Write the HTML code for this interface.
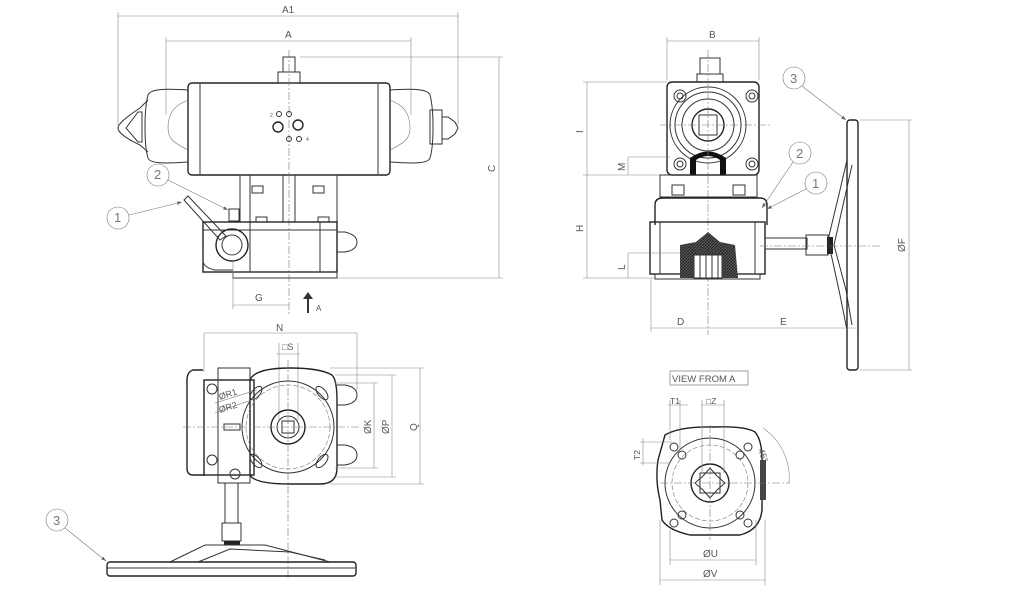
<!DOCTYPE html>
<html><head><meta charset="utf-8"><style>
html,body{margin:0;padding:0;background:#fff;width:1024px;height:600px;overflow:hidden}
svg{display:block}
text{font-family:"Liberation Sans",sans-serif;fill:#555;font-size:10px}
.l{stroke:#333;fill:none;stroke-width:1}
.t{stroke:#777;fill:none;stroke-width:0.6}
.d{stroke:#888;fill:none;stroke-width:0.6}
.c{stroke:#777;fill:none;stroke-width:0.6;stroke-dasharray:8 2 2 2}
.k{stroke:#222;fill:none;stroke-width:1.4}
</style></head><body>
<svg width="1024" height="600" viewBox="0 0 1024 600" xmlns="http://www.w3.org/2000/svg">
<defs>
<marker id="ar" markerWidth="8" markerHeight="6" refX="8" refY="3" orient="auto"><path d="M0,0 L8,3 L0,6z" fill="#666"/></marker>
<pattern id="hatch" width="3" height="3" patternUnits="userSpaceOnUse"><rect width="3" height="3" fill="#555"/><path d="M0,3 L3,0" stroke="#222" stroke-width="1"/></pattern>
</defs>

<!-- ===== VIEW 1 ===== -->
<!-- dims -->
<line class="d" x1="118" y1="16" x2="458" y2="16"/>
<line class="d" x1="118" y1="12" x2="118" y2="125"/><line class="d" x1="458" y1="12" x2="458" y2="125"/>
<text x="282" y="13">A1</text>
<line class="d" x1="166" y1="41" x2="411" y2="41"/>
<line class="d" x1="166" y1="37" x2="166" y2="115"/><line class="d" x1="411" y1="37" x2="411" y2="115"/>
<text x="285" y="38">A</text>
<line class="d" x1="300" y1="57" x2="503" y2="57"/>
<line class="d" x1="337" y1="278" x2="503" y2="278"/>
<line class="d" x1="499" y1="57" x2="499" y2="278"/>
<text x="0" y="0" transform="translate(495,172) rotate(-90)">C</text>
<!-- actuator -->
<rect class="k" x="188" y="83" width="202" height="92" rx="4"/>
<line class="l" x1="200" y1="84" x2="200" y2="174"/><line class="l" x1="378" y1="84" x2="378" y2="174"/>
<path class="l" d="M188,90 C160,88 150,90 148,95 C144,110 144,145 148,158 C150,163 160,164 188,162"/>
<path class="l" d="M148,100 L140,108 C125,118 118,124 118,128 C118,132 125,138 140,145 L148,152"/>
<path class="l" d="M126,128 L138,112 L142,112 L142,142 L138,142 Z"/>
<path class="t" d="M188,100 L180,104 C170,110 168,120 168,128 C168,138 172,142 188,150"/>
<path class="l" d="M390,90 C418,88 428,90 430,95 C434,110 434,145 430,158 C428,163 418,164 390,162"/>
<rect class="l" x="430" y="110" width="12" height="34"/>
<path class="l" d="M442,117 L448,117 L455,122 L458,128 L455,134 L448,139 L442,139"/>
<path class="t" d="M390,100 L398,104 C408,110 410,120 410,128 C410,138 406,142 390,150"/>
<rect class="l" x="278" y="72" width="22" height="11"/>
<rect class="l" x="283" y="57" width="12" height="15"/>
<line class="c" x1="289" y1="50" x2="289" y2="315"/>
<circle class="l" cx="279" cy="114" r="2.5"/><circle class="l" cx="289" cy="114" r="2.5"/>
<circle class="k" cx="278" cy="127" r="5"/><circle class="k" cx="298" cy="125" r="5"/>
<circle class="l" cx="289" cy="139" r="2.5"/><circle class="l" cx="299" cy="139" r="2.5"/>
<text x="270" y="117" style="font-size:5px">2</text><text x="306" y="141" style="font-size:5px">4</text>
<!-- bracket -->
<rect class="l" x="240" y="175" width="97" height="47"/>
<line class="l" x1="250" y1="175" x2="250" y2="222"/>
<rect class="l" x="252" y="186" width="11" height="7"/><rect class="l" x="313" y="186" width="11" height="7"/>
<line class="l" x1="283" y1="175" x2="283" y2="222"/><line class="l" x1="295" y1="175" x2="295" y2="222"/>
<rect class="l" x="256" y="217" width="11" height="5"/><rect class="l" x="318" y="217" width="11" height="5"/>
<!-- box -->
<rect class="k" x="203" y="222" width="134" height="50"/>
<line class="l" x1="250" y1="222" x2="250" y2="272"/><line class="l" x1="203" y1="230" x2="337" y2="230"/>
<line class="l" x1="320" y1="222" x2="320" y2="272"/>
<rect class="l" x="233" y="272" width="104" height="6"/>
<path class="l" d="M203,250 L203,262 Q205,268 215,270 L233,270"/>
<circle class="k" cx="232" cy="245" r="16"/><circle class="l" cx="232" cy="245" r="10"/>
<path class="l" d="M337,232 L345,232 Q357,235 357,242 Q357,250 345,252 L337,252"/>
<path class="l" d="M184,200 L188,196 L226,236 L220,240 Z"/>
<rect class="l" x="229" y="209" width="10" height="12"/>
<!-- G / A arrow -->
<line class="d" x1="233" y1="260" x2="233" y2="309"/>
<line class="d" x1="233" y1="305" x2="289" y2="305"/>
<text x="255" y="301">G</text>
<path d="M307,313 L307,299 L303,299 L308,292 L313,299 L309,299 L309,313 Z" fill="#333"/>
<text x="316" y="311" style="font-size:8px">A</text>
<!-- callouts -->
<circle class="t" cx="118" cy="218" r="11"/><text x="114" y="222" style="font-size:13px;fill:#777">1</text>
<line class="t" x1="129" y1="215" x2="182" y2="202" marker-end="url(#ar)"/>
<circle class="t" cx="158" cy="175" r="11"/><text x="154" y="179" style="font-size:13px;fill:#777">2</text>
<line class="t" x1="168" y1="180" x2="228" y2="210" marker-end="url(#ar)"/>

<!-- ===== VIEW 2 ===== -->
<line class="d" x1="667" y1="41" x2="759" y2="41"/>
<line class="d" x1="667" y1="37" x2="667" y2="80"/><line class="d" x1="759" y1="37" x2="759" y2="80"/>
<text x="709" y="38">B</text>
<rect class="l" x="700" y="58" width="20" height="16"/><rect class="l" x="697" y="74" width="26" height="8"/>
<rect class="k" x="667" y="82" width="92" height="93" rx="5"/>
<circle class="l" cx="708" cy="125" r="38"/><circle class="l" cx="708" cy="125" r="33"/>
<circle class="l" cx="708" cy="125" r="26"/><circle class="k" cx="708" cy="125" r="16"/>
<rect class="l" x="699" y="115" width="18" height="20"/>
<circle class="l" cx="680" cy="96" r="6"/><circle class="l" cx="680" cy="96" r="3"/>
<circle class="l" cx="752" cy="96" r="6"/><circle class="l" cx="752" cy="96" r="3"/>
<circle class="l" cx="680" cy="164" r="6"/><circle class="l" cx="680" cy="164" r="3"/>
<circle class="l" cx="752" cy="164" r="6"/><circle class="l" cx="752" cy="164" r="3"/>
<path d="M690,175 L690,158 Q708,145 726,158 L726,175 L720,175 L720,160 Q708,152 696,160 L696,175Z" fill="#111"/>
<line class="c" x1="708" y1="50" x2="708" y2="335"/>
<line class="c" x1="660" y1="125" x2="770" y2="125"/>
<line class="d" x1="583" y1="82" x2="667" y2="82"/><line class="d" x1="583" y1="175" x2="667" y2="175"/>
<line class="d" x1="587" y1="82" x2="587" y2="278"/>
<text transform="translate(583,133) rotate(-90)">I</text>
<line class="d" x1="628" y1="157" x2="670" y2="157"/><line class="d" x1="628" y1="157" x2="628" y2="175"/>
<text transform="translate(625,171) rotate(-90)">M</text>
<text transform="translate(583,232) rotate(-90)">H</text>
<rect class="l" x="660" y="175" width="97" height="22"/>
<rect class="l" x="672" y="185" width="12" height="10"/><rect class="l" x="733" y="185" width="12" height="10"/>
<path class="k" d="M655,225 L655,205 Q655,198 663,198 L760,198 Q767,198 767,205 L767,225"/>
<rect class="k" x="650" y="222" width="115" height="52"/>
<line class="l" x1="660" y1="222" x2="660" y2="274"/><line class="l" x1="755" y1="222" x2="755" y2="274"/>
<rect class="l" x="655" y="274" width="105" height="5"/>
<path d="M680,245 L696,242 L708,232 L720,242 L735,245 L738,278 L680,278Z" fill="url(#hatch)"/>
<rect x="694" y="255" width="28" height="23" fill="#fff" stroke="#333"/>
<line class="l" x1="700" y1="255" x2="700" y2="278"/><line class="l" x1="706" y1="255" x2="706" y2="278"/><line class="l" x1="712" y1="255" x2="712" y2="278"/><line class="l" x1="718" y1="255" x2="718" y2="278"/>
<line class="d" x1="583" y1="278" x2="655" y2="278"/>
<line class="d" x1="628" y1="253" x2="680" y2="253"/><line class="d" x1="628" y1="253" x2="628" y2="278"/>
<text transform="translate(625,270) rotate(-90)">L</text>
<!-- shaft & wheel -->
<rect class="l" x="765" y="238" width="42" height="11"/>
<rect class="l" x="806" y="235" width="22" height="20"/>
<rect x="827" y="237" width="6" height="17" fill="#222"/>
<rect class="k" x="847" y="120" width="11" height="250" rx="3"/>
<path class="l" d="M847,160 L840,190 L828,240 L840,295 L847,330"/>
<path class="l" d="M852,165 L846,192 L834,245 L846,290 L852,325"/>
<line class="c" x1="760" y1="246" x2="880" y2="246"/>
<line class="d" x1="860" y1="120" x2="912" y2="120"/><line class="d" x1="860" y1="370" x2="912" y2="370"/>
<line class="d" x1="909" y1="120" x2="909" y2="370"/>
<text transform="translate(905,252) rotate(-90)">ØF</text>
<line class="d" x1="651" y1="279" x2="651" y2="332"/>
<line class="d" x1="651" y1="328" x2="858" y2="328"/>
<text x="677" y="325">D</text><text x="780" y="325">E</text>
<circle class="t" cx="794" cy="78" r="11"/><text x="790" y="83" style="font-size:13px;fill:#777">3</text>
<line class="t" x1="802" y1="86" x2="846" y2="120" marker-end="url(#ar)"/>
<circle class="t" cx="800" cy="153" r="11"/><text x="796" y="158" style="font-size:13px;fill:#777">2</text>
<line class="t" x1="793" y1="162" x2="762" y2="208" marker-end="url(#ar)"/>
<circle class="t" cx="816" cy="183" r="11"/><text x="812" y="188" style="font-size:13px;fill:#777">1</text>
<line class="t" x1="806" y1="189" x2="767" y2="209" marker-end="url(#ar)"/>

<!-- ===== VIEW 3 ===== -->
<line class="d" x1="204" y1="333" x2="357" y2="333"/>
<line class="d" x1="204" y1="333" x2="204" y2="372"/><line class="d" x1="357" y1="333" x2="357" y2="390"/>
<text x="276" y="331">N</text>
<text x="282" y="350" style="font-size:9px">□S</text>
<line class="d" x1="279" y1="343" x2="279" y2="420"/><line class="d" x1="298" y1="343" x2="298" y2="420"/>
<line class="d" x1="276" y1="354" x2="300" y2="354"/>
<path class="k" d="M203,370 L193,370 Q187,372 187,380 L187,468 Q187,475 193,475 L205,475"/>
<rect class="k" x="204" y="380" width="50" height="95"/>
<rect class="l" x="218" y="368" width="32" height="115"/>
<circle class="l" cx="212" cy="389" r="5"/><circle class="l" cx="212" cy="460" r="5"/><circle class="l" cx="235" cy="474" r="5"/>
<rect class="l" x="224" y="424" width="16" height="6"/>
<path class="k" d="M250,380 Q255,368 290,368 Q320,368 332,375 Q337,380 337,400 L337,468 Q337,484 320,484 L290,484 Q255,484 250,475 Z"/>
<circle class="t" cx="288" cy="427" r="42" stroke-dasharray="5 2"/>
<circle class="l" cx="288" cy="427" r="46"/>
<circle class="k" cx="288" cy="427" r="17"/><circle class="l" cx="288" cy="427" r="11"/>
<rect class="l" x="282" y="421" width="12" height="12"/>
<ellipse class="l" cx="256" cy="393" rx="4" ry="8" transform="rotate(40 256 393)"/>
<ellipse class="l" cx="322" cy="393" rx="4" ry="8" transform="rotate(-40 322 393)"/>
<ellipse class="l" cx="256" cy="461" rx="4" ry="8" transform="rotate(-40 256 461)"/>
<ellipse class="l" cx="322" cy="461" rx="4" ry="8" transform="rotate(40 322 461)"/>
<path class="l" d="M337,385 L345,385 Q357,387 357,395 Q357,403 345,405 L337,405"/>
<path class="l" d="M337,445 L345,445 Q357,447 357,455 Q357,463 345,465 L337,465"/>
<line class="c" x1="183" y1="427" x2="360" y2="427"/>
<line class="c" x1="288" y1="360" x2="288" y2="580"/>
<line class="t" x1="215" y1="403" x2="257" y2="390"/><line class="t" x1="215" y1="413" x2="257" y2="398"/>
<text transform="translate(220,400) rotate(-18)" style="font-size:9px">ØR1</text>
<text transform="translate(220,413) rotate(-18)" style="font-size:9px">ØR2</text>
<line class="d" x1="335" y1="383" x2="378" y2="383"/><line class="d" x1="335" y1="468" x2="378" y2="468"/>
<line class="d" x1="374" y1="383" x2="374" y2="468"/>
<text transform="translate(371,434) rotate(-90)">ØK</text>
<line class="d" x1="335" y1="375" x2="396" y2="375"/><line class="d" x1="335" y1="477" x2="396" y2="477"/>
<line class="d" x1="392" y1="375" x2="392" y2="477"/>
<text transform="translate(389,434) rotate(-90)">ØP</text>
<line class="d" x1="330" y1="368" x2="424" y2="368"/><line class="d" x1="330" y1="484" x2="424" y2="484"/>
<line class="d" x1="420" y1="368" x2="420" y2="484"/>
<text transform="translate(417,431) rotate(-90)">Q</text>
<rect class="l" x="225" y="483" width="13" height="40"/>
<rect class="l" x="222" y="523" width="19" height="18"/>
<rect x="224" y="541" width="16" height="4" fill="#222"/>
<path class="l" d="M170,562 L205,545 L265,545 L330,562"/>
<path class="l" d="M198,562 L230,549 L290,552 L325,560"/>
<rect class="k" x="107" y="562" width="249" height="14" rx="3"/>
<line class="l" x1="107" y1="568" x2="356" y2="568"/>
<circle class="t" cx="57" cy="520" r="11"/><text x="53" y="525" style="font-size:13px;fill:#777">3</text>
<line class="t" x1="65" y1="528" x2="106" y2="561" marker-end="url(#ar)"/>

<!-- ===== VIEW 4 ===== -->
<rect x="670" y="371" width="78" height="14" fill="none" stroke="#888" stroke-width="0.8"/>
<text x="672" y="382" style="font-size:9.5px">VIEW FROM A</text>
<path class="k" d="M665,435 Q680,426 715,427 Q745,426 755,432 Q762,440 762,460 L762,510 Q760,530 740,535 L690,535 Q668,530 662,520 L660,500 Q655,480 658,460 Z"/>
<circle class="l" cx="710" cy="483" r="45"/><circle class="t" cx="710" cy="483" r="38" stroke-dasharray="5 2"/>
<circle class="k" cx="710" cy="483" r="19"/>
<path class="l" d="M710,468 L717,476 L725,483 L717,490 L710,498 L703,490 L695,483 L703,476 Z"/>
<rect class="l" x="700" y="473" width="20" height="20"/>
<circle class="l" cx="674" cy="447" r="4"/><circle class="l" cx="682" cy="455" r="4"/>
<circle class="l" cx="748" cy="447" r="4"/><circle class="l" cx="740" cy="455" r="4"/>
<circle class="l" cx="674" cy="523" r="4"/><circle class="l" cx="682" cy="515" r="4"/>
<circle class="l" cx="748" cy="523" r="4"/><circle class="l" cx="740" cy="515" r="4"/>
<rect x="760" y="460" width="6" height="40" fill="#444"/>
<line class="c" x1="660" y1="483" x2="790" y2="483"/>
<line class="c" x1="710" y1="425" x2="710" y2="540"/>
<line class="d" x1="668" y1="405" x2="688" y2="405"/><line class="d" x1="670" y1="400" x2="670" y2="440"/><line class="d" x1="680" y1="400" x2="680" y2="450"/>
<text x="670" y="404" style="font-size:8.5px">T1</text>
<line class="d" x1="701" y1="405" x2="725" y2="405"/><line class="d" x1="702" y1="400" x2="702" y2="473"/><line class="d" x1="724" y1="400" x2="724" y2="473"/>
<text x="706" y="404" style="font-size:8.5px">□Z</text>
<line class="d" x1="640" y1="442" x2="672" y2="442"/><line class="d" x1="640" y1="463" x2="670" y2="463"/>
<line class="d" x1="643" y1="438" x2="643" y2="465"/>
<text transform="translate(640,460) rotate(-90)" style="font-size:8.5px">T2</text>
<path class="d" d="M763,428 A60,60 0 0 1 789,483"/>
<text transform="translate(758,450) rotate(70)" style="font-size:9px">45°</text>
<line class="d" x1="670" y1="530" x2="670" y2="565"/><line class="d" x1="756" y1="520" x2="756" y2="565"/>
<line class="d" x1="670" y1="560" x2="756" y2="560"/>
<text x="703" y="557">ØU</text>
<line class="d" x1="660" y1="520" x2="660" y2="585"/><line class="d" x1="765" y1="520" x2="765" y2="585"/>
<line class="d" x1="660" y1="580" x2="765" y2="580"/>
<text x="703" y="577">ØV</text>
</svg>
</body></html>
